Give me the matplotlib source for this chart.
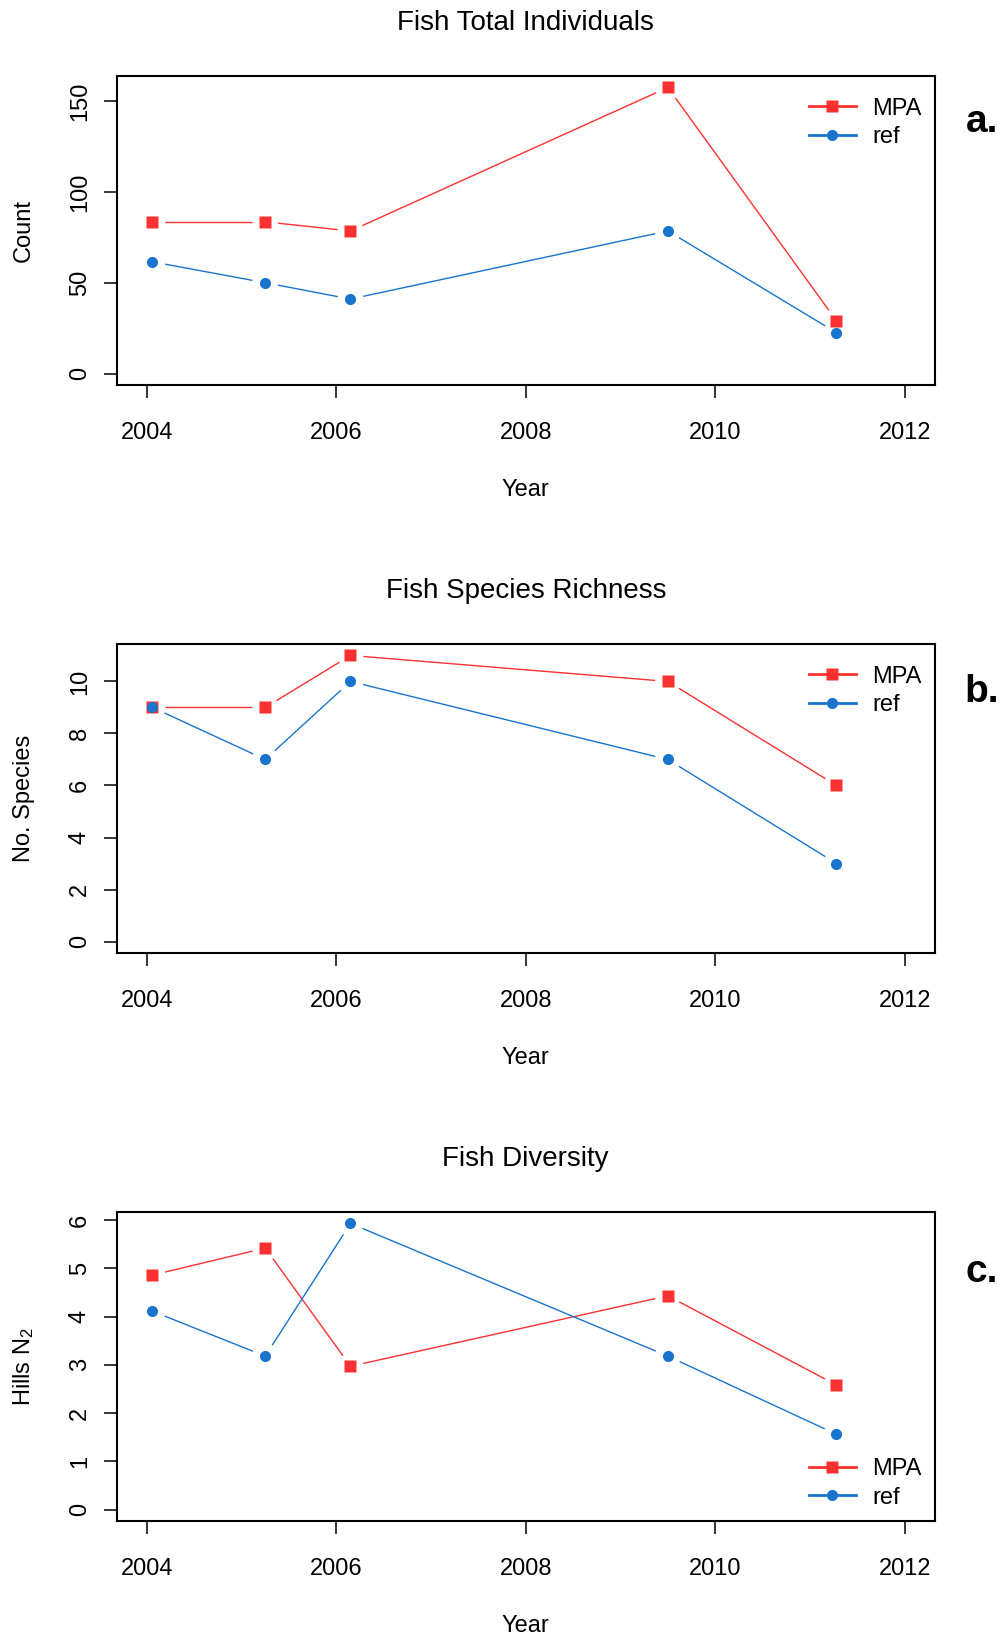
import matplotlib
matplotlib.use('Agg')
import matplotlib.pyplot as plt
from matplotlib.lines import Line2D
import numpy as np

plt.rcParams['font.family'] = ['Liberation Sans', 'DejaVu Sans']
plt.rcParams['mathtext.default'] = 'regular'

# survey years (as plotted) and values per site type
years = [2004.06, 2005.25, 2006.15, 2009.5, 2011.28]

mpa_count = [83.5, 83.5, 78.5, 157.5, 29]
ref_count = [61.5, 50, 41, 78.5, 22.5]

mpa_rich = [9, 9, 11, 10, 6]
ref_rich = [9, 7, 10, 7, 3]

mpa_hill = [4.86, 5.42, 2.97, 4.43, 2.58]
ref_hill = [4.11, 3.18, 5.93, 3.18, 1.56]

titles = ["Fish Total Individuals", "Fish Species Richness", "Fish Diversity"]
ylabels = ["Count", "No. Species", r"Hills N$_2$"]
letters = ["a.", "b.", "c."]
xticks = [2004, 2006, 2008, 2010, 2012]
yticks = [[0, 50, 100, 150], [0, 2, 4, 6, 8, 10], [0, 1, 2, 3, 4, 5, 6]]

RED = '#FF3030'
BLUE = '#1874CD'

W, H = 1005, 1636
fig = plt.figure(figsize=(W / 100, H / 100), dpi=100)


def px(x, y):
    # pixel (from top-left) -> figure fraction
    return x / W, 1 - y / H


def gapped_line(ax, x, y, color, gap=13):
    # R type="b": segments stop short of the points
    pts = ax.transData.transform(np.column_stack([x, y]))
    inv = ax.transData.inverted()
    for p0, p1 in zip(pts[:-1], pts[1:]):
        d = p1 - p0
        L = np.hypot(d[0], d[1])
        if L <= 2 * gap:
            continue
        u = d / L
        seg = inv.transform(np.array([p0 + u * gap, p1 - u * gap]))
        ax.plot(seg[:, 0], seg[:, 1], color=color, lw=1.0, solid_capstyle='butt')


panels = [
    (mpa_count, ref_count, 76, 'upper right'),
    (mpa_rich, ref_rich, 644, 'upper right'),
    (mpa_hill, ref_hill, 1212, 'lower right'),
]
letter_y = [122, 692, 1272]

left, right = 116.5, 935
box_h = 309

for i, (mpa, ref, top, loc) in enumerate(panels):
    l, b = px(left, top + box_h)
    ax = fig.add_axes([l, b, (right - left) / W, box_h / H])
    ymax = max(max(mpa), max(ref))
    pad = 0.04 * ymax
    ax.set_xlim(2004 - 0.32, 2012 + 0.32)
    ax.set_ylim(-pad, ymax + pad)
    ax.set_xticks(xticks)
    ax.set_yticks(yticks[i])
    ax.tick_params(direction='out', length=9.5, width=1.1, labelsize=17)
    ax.tick_params(axis='x', pad=17)
    ax.tick_params(axis='y', pad=9, labelrotation=90)
    for lab in ax.get_yticklabels():
        lab.set_va('center')
    for s in ax.spines.values():
        s.set_linewidth(1.5)

    gapped_line(ax, years, mpa, RED)
    ax.plot(years, mpa, ls='none', marker='s', ms=8.5, color=RED, mec='none')
    gapped_line(ax, years, ref, BLUE)
    ax.plot(years, ref, ls='none', marker='o', ms=8, color=BLUE, mec='none')

    handles = [
        Line2D([], [], color=RED, lw=2, marker='s', ms=8.5, mec='none'),
        Line2D([], [], color=BLUE, lw=2, marker='o', ms=8, mec='none'),
    ]
    anchor = (0.984, 0.93) if loc == 'upper right' else (0.984, 0.04)
    ax.legend(handles, ['MPA', 'ref'], loc=loc, bbox_to_anchor=anchor,
              frameon=False, fontsize=17, handlelength=2.0, handletextpad=0.7,
              labelspacing=0.28, borderpad=0, borderaxespad=0)

    cx = (left + right) / 2
    fig.text(*px(cx, top - 53), titles[i], ha='center', va='center', fontsize=20)
    fig.text(*px(cx, top + box_h + 105), "Year", ha='center', va='center', fontsize=17)
    fig.text(*px(24, top + box_h / 2), ylabels[i], ha='center', va='center',
             rotation=90, fontsize=17)
    fig.text(*px(982, letter_y[i]), letters[i], ha='center', va='center',
             fontsize=28, fontweight='bold')

fig.savefig('out.png', dpi=100)
